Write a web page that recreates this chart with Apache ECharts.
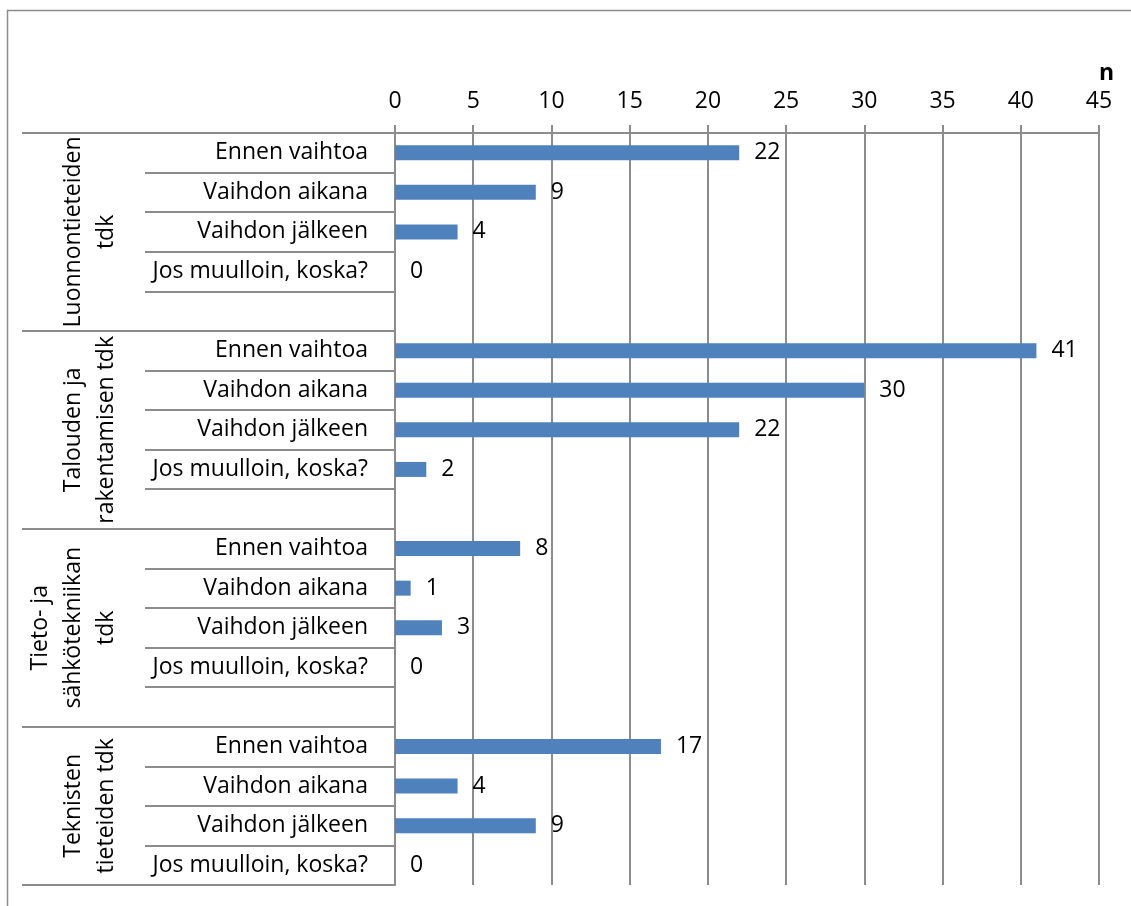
<!DOCTYPE html>
<html>
<head>
<meta charset="utf-8">
<title>Vaihto</title>
<script src="https://cdn.jsdelivr.net/npm/echarts@6/dist/echarts.min.js"></script>
<style>
	html, body { margin: 0; padding: 0; background: #fff; }
	#main { width: 1131px; height: 906px; }
</style>
</head>
<body>
<div id="main"></div>
<script>
	// tiedekunnat (ryhmät)
	var faculties = ['Luonnontieteiden\ntdk', 'Talouden ja\nrakentamisen tdk', 'Tieto- ja\nsähkötekniikan\ntdk', 'Teknisten\ntieteiden tdk'];
	// ajankohdat
	var periods = ['Ennen vaihtoa', 'Vaihdon aikana', 'Vaihdon jälkeen', 'Jos muulloin, koska?'];
	// arvot tiedekunnittain (n)
	var luonnontieteet = [22, 9, 4, 0];
	var talous = [41, 30, 22, 2];
	var tietotekniikka = [8, 1, 3, 0];
	var tekniikka = [17, 4, 9, 0];
	var xTicks = { min: 0, max: 45, interval: 5 };

	var groups = [luonnontieteet, talous, tietotekniikka, tekniikka];

	// rivit: 4 ajankohtaa + tyhjä väli ryhmien välissä
	var rows = [];
	var values = [];
	var groupStart = [];
	var groupEnd = [];
	for (var g = 0; g < groups.length; g++) {
		groupStart.push(rows.length);
		for (var i = 0; i < periods.length; i++) {
			rows.push(periods[i]);
			values.push(groups[g][i]);
		}
		if (g < groups.length - 1) {
			rows.push('');
			values.push('-');
		}
		groupEnd.push(rows.length - 1);
	}

	var font = 'Open Sans';
	var fsize = 23;
	var gray = '#8c8c8c';

	var myChart = echarts.init(document.getElementById('main'));
	myChart.setOption({
		backgroundColor: '#fff',
		animation: false,
		title: {
			text: 'n',
			left: 1094,
			top: 57,
			textStyle: { fontFamily: font, fontSize: fsize, fontWeight: 'bold', color: '#000' }
		},
		grid: { left: 395, right: 32, top: 133, bottom: 21 },
		xAxis: {
			type: 'value',
			position: 'top',
			min: xTicks.min,
			max: xTicks.max,
			interval: xTicks.interval,
			axisLine: { show: true, lineStyle: { color: gray, width: 2 } },
			axisTick: { show: true, length: 8, lineStyle: { color: gray, width: 2 } },
			axisLabel: { margin: 20, fontFamily: font, fontSize: fsize, color: '#000' },
			splitLine: { show: true, lineStyle: { color: gray, width: 2 } }
		},
		yAxis: [{
			type: 'category',
			inverse: true,
			position: 'left',
			data: rows,
			axisLine: { show: true, lineStyle: { color: gray, width: 2 } },
			// rivien väliviivat
			axisTick: {
				show: true,
				length: 250,
				interval: function(idx) { return groupStart.indexOf(idx) < 0; },
				lineStyle: { color: gray, width: 2 }
			},
			axisLabel: { interval: 0, margin: 27, fontFamily: font, fontSize: fsize, color: '#000' }
		}, {
			type: 'category',
			inverse: true,
			position: 'left',
			data: rows,
			axisLine: { show: false },
			// ryhmien väliviivat
			axisTick: {
				show: true,
				length: 373,
				interval: function(idx) { return groupStart.indexOf(idx) >= 0; },
				lineStyle: { color: gray, width: 2 }
			},
			axisLabel: { show: false }
		}],
		series: [{
			type: 'bar',
			yAxisIndex: 0,
			data: values,
			barWidth: 15,
			itemStyle: { color: '#4f81bd' },
			label: {
				show: true,
				position: 'right',
				distance: 15,
				fontFamily: font,
				fontSize: fsize,
				color: '#000'
			}
		}]
	});

	// ryhmien nimet pystyyn, paikka akselin mukaan
	var graphics = [{
		type: 'rect',
		silent: true,
		shape: { x: 7.5, y: 10.5, width: 1300, height: 1000 },
		style: { fill: 'none', stroke: gray, lineWidth: 1.5 }
	}];
	for (var k = 0; k < faculties.length; k++) {
		var y0 = myChart.convertToPixel({ yAxisIndex: 0 }, groupStart[k]);
		var y1 = myChart.convertToPixel({ yAxisIndex: 0 }, groupEnd[k]);
		graphics.push({
			type: 'text',
			x: 123,
			y: (y0 + y1) / 2,
			rotation: Math.PI / 2,
			silent: true,
			style: {
				text: faculties[k],
				fontFamily: font,
				fontSize: fsize,
				lineHeight: 33,
				fill: '#000',
				align: 'center',
				verticalAlign: 'bottom'
			}
		});
	}
	myChart.setOption({ graphic: graphics });
</script>
</body>
</html>
